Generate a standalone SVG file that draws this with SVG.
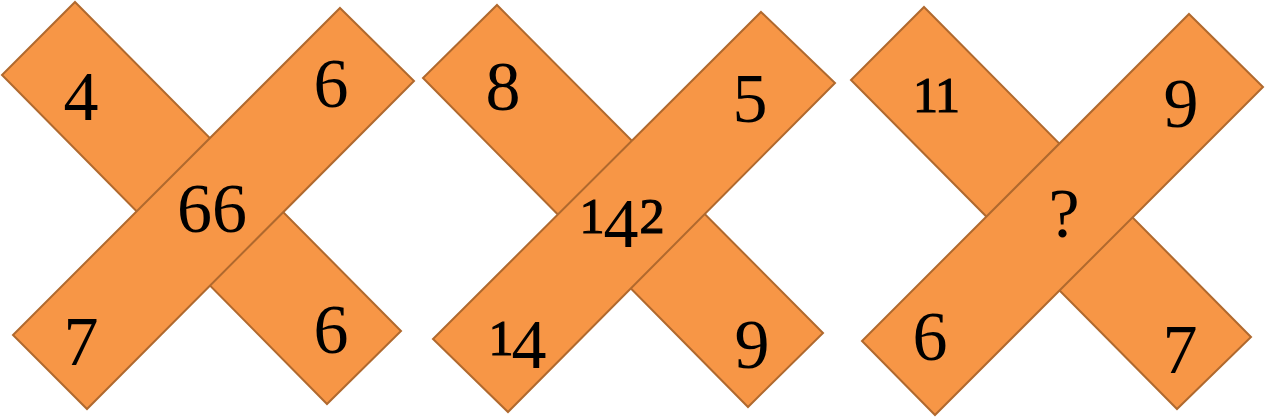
<svg xmlns="http://www.w3.org/2000/svg" width="1265" height="420" viewBox="0 0 1265 420">
<style>
.bar{fill:#F79646;stroke:#B0692E;stroke-width:2;stroke-linejoin:miter}
.t{font-family:"Liberation Serif","DejaVu Serif",serif;font-size:70px;fill:#000;text-anchor:middle}
.s{font-size:50px;stroke:#000;stroke-width:1.2}
</style>
<rect width="1265" height="420" fill="#fff"/>
<g id="cross1">
<polygon class="bar" points="75,2 401,331 327,404 2,75"/>
<polygon class="bar" points="340,8 414,81 87,409 13,335"/>
<text class="t" x="81" y="120">4</text>
<text class="t" x="331" y="107">6</text>
<text class="t" x="212" y="232">66</text>
<text class="t" x="81" y="365">7</text>
<text class="t" x="331" y="353">6</text>
</g>
<g id="cross2">
<polygon class="bar" points="497,5 823,333 748,407 423,78"/>
<polygon class="bar" points="761,12 835,83 508,412 433,339"/>
<text class="t" x="503" y="110">8</text>
<text class="t" x="750" y="122">5</text>
<text class="t" x="624" y="233"><tspan class="s" x="592" y="233">1</tspan><tspan x="621" y="247">4</tspan><tspan class="s" x="652" y="233">2</tspan></text>
<text class="t" x="516" y="355"><tspan class="s" x="501" y="355">1</tspan><tspan x="529" y="368">4</tspan></text>
<text class="t" x="752" y="368">9</text>
</g>
<g id="cross3">
<polygon class="bar" points="924,7 1251,337 1177,409 851,80"/>
<polygon class="bar" points="1189,14 1263,87 935,415 862,341"/>
<text class="t s" x="936" y="112" letter-spacing="-1">11</text>
<text class="t" x="1181" y="127">9</text>
<text class="t" x="1064" y="237">?</text>
<text class="t" x="930" y="360">6</text>
<text class="t" x="1180" y="373">7</text>
</g>
<g id="connectors"/>
</svg>
